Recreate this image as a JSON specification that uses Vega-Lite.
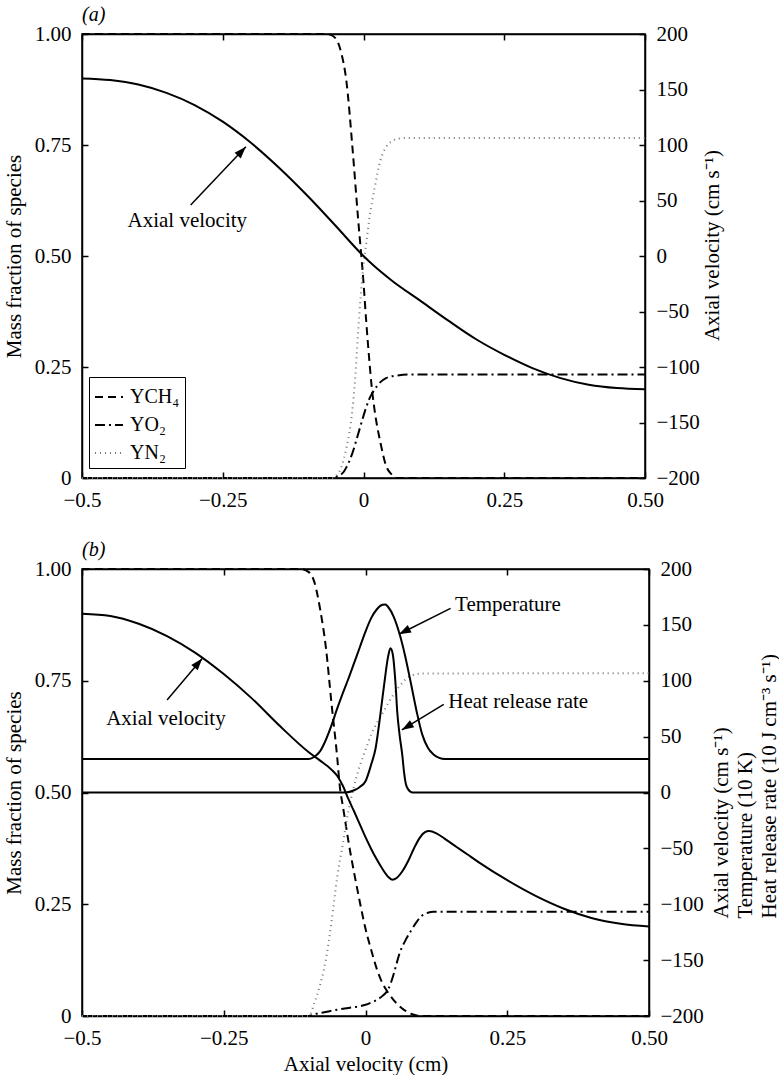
{
  "$schema": "https://vega.github.io/schema/vega-lite/v6.json",
  "padding": {"top": 4, "left": 2, "right": 0, "bottom": 0},
  "spacing": 28,
  "background": "white",
  "datasets": {
    "aSpecies": [
      {"x": -0.5, "s": "CH4", "y": 1}, {"x": -0.3, "s": "CH4", "y": 1}, {"x": -0.1, "s": "CH4", "y": 1}, {"x": -0.065, "s": "CH4", "y": 1},
      {"x": -0.055, "s": "CH4", "y": 0.996}, {"x": -0.045, "s": "CH4", "y": 0.98}, {"x": -0.04, "s": "CH4", "y": 0.96}, {"x": -0.03, "s": "CH4", "y": 0.89},
      {"x": -0.02, "s": "CH4", "y": 0.75}, {"x": -0.01, "s": "CH4", "y": 0.59}, {"x": 0, "s": "CH4", "y": 0.44}, {"x": 0.005, "s": "CH4", "y": 0.35},
      {"x": 0.01, "s": "CH4", "y": 0.27}, {"x": 0.015, "s": "CH4", "y": 0.2}, {"x": 0.02, "s": "CH4", "y": 0.15}, {"x": 0.03, "s": "CH4", "y": 0.08},
      {"x": 0.04, "s": "CH4", "y": 0.028}, {"x": 0.05, "s": "CH4", "y": 0.008}, {"x": 0.06, "s": "CH4", "y": 0}, {"x": 0.2, "s": "CH4", "y": 0}, {"x": 0.5, "s": "CH4", "y": 0},
      {"x": -0.5, "s": "O2", "y": 0}, {"x": -0.2, "s": "O2", "y": 0}, {"x": -0.055, "s": "O2", "y": 0}, {"x": -0.045, "s": "O2", "y": 0.005},
      {"x": -0.035, "s": "O2", "y": 0.014}, {"x": -0.03, "s": "O2", "y": 0.025}, {"x": -0.02, "s": "O2", "y": 0.055}, {"x": -0.01, "s": "O2", "y": 0.097},
      {"x": 0, "s": "O2", "y": 0.14}, {"x": 0.005, "s": "O2", "y": 0.16}, {"x": 0.01, "s": "O2", "y": 0.177}, {"x": 0.015, "s": "O2", "y": 0.19},
      {"x": 0.02, "s": "O2", "y": 0.2}, {"x": 0.03, "s": "O2", "y": 0.216}, {"x": 0.04, "s": "O2", "y": 0.225}, {"x": 0.05, "s": "O2", "y": 0.229},
      {"x": 0.06, "s": "O2", "y": 0.231}, {"x": 0.08, "s": "O2", "y": 0.233}, {"x": 0.5, "s": "O2", "y": 0.233},
      {"x": -0.5, "s": "N2", "y": 0}, {"x": -0.2, "s": "N2", "y": 0}, {"x": -0.055, "s": "N2", "y": 0}, {"x": -0.05, "s": "N2", "y": 0.004},
      {"x": -0.04, "s": "N2", "y": 0.022}, {"x": -0.03, "s": "N2", "y": 0.07}, {"x": -0.02, "s": "N2", "y": 0.15}, {"x": -0.015, "s": "N2", "y": 0.22},
      {"x": -0.01, "s": "N2", "y": 0.32}, {"x": -0.005, "s": "N2", "y": 0.41}, {"x": 0, "s": "N2", "y": 0.48}, {"x": 0.005, "s": "N2", "y": 0.53},
      {"x": 0.01, "s": "N2", "y": 0.58}, {"x": 0.02, "s": "N2", "y": 0.655}, {"x": 0.03, "s": "N2", "y": 0.715}, {"x": 0.04, "s": "N2", "y": 0.745},
      {"x": 0.05, "s": "N2", "y": 0.758}, {"x": 0.06, "s": "N2", "y": 0.764}, {"x": 0.08, "s": "N2", "y": 0.766}, {"x": 0.5, "s": "N2", "y": 0.766}
    ],
    "aVel": [
      {"x": -0.5, "v": 160}, {"x": -0.45, "v": 158.5}, {"x": -0.4, "v": 154.5}, {"x": -0.35, "v": 147}, {"x": -0.3, "v": 136},
      {"x": -0.25, "v": 121}, {"x": -0.2, "v": 102}, {"x": -0.15, "v": 79.5}, {"x": -0.1, "v": 54.5}, {"x": -0.05, "v": 27.5},
      {"x": 0, "v": 0}, {"x": 0.02, "v": -9.5}, {"x": 0.05, "v": -22}, {"x": 0.1, "v": -40},
      {"x": 0.15, "v": -58}, {"x": 0.2, "v": -75}, {"x": 0.25, "v": -89}, {"x": 0.3, "v": -101}, {"x": 0.35, "v": -110},
      {"x": 0.4, "v": -116}, {"x": 0.45, "v": -119}, {"x": 0.5, "v": -120}
    ],
    "aText": [{"x": -0.313, "y": 0.566, "t": "Axial velocity"}],
    "aArrow": [{"x": -0.307, "y": 0.615, "x2": -0.209, "y2": 0.746}],
    "bSpecies": [
      {"x": -0.5, "s": "CH4", "y": 1}, {"x": -0.3, "s": "CH4", "y": 1}, {"x": -0.115, "s": "CH4", "y": 1}, {"x": -0.1, "s": "CH4", "y": 0.993},
      {"x": -0.09, "s": "CH4", "y": 0.97}, {"x": -0.08, "s": "CH4", "y": 0.91}, {"x": -0.07, "s": "CH4", "y": 0.826}, {"x": -0.06, "s": "CH4", "y": 0.7},
      {"x": -0.05, "s": "CH4", "y": 0.58}, {"x": -0.045, "s": "CH4", "y": 0.51}, {"x": -0.04, "s": "CH4", "y": 0.47}, {"x": -0.035, "s": "CH4", "y": 0.43},
      {"x": -0.03, "s": "CH4", "y": 0.39}, {"x": -0.02, "s": "CH4", "y": 0.32}, {"x": -0.01, "s": "CH4", "y": 0.255}, {"x": 0, "s": "CH4", "y": 0.195},
      {"x": 0.01, "s": "CH4", "y": 0.148}, {"x": 0.02, "s": "CH4", "y": 0.105}, {"x": 0.03, "s": "CH4", "y": 0.073}, {"x": 0.04, "s": "CH4", "y": 0.052},
      {"x": 0.05, "s": "CH4", "y": 0.035}, {"x": 0.06, "s": "CH4", "y": 0.022}, {"x": 0.07, "s": "CH4", "y": 0.012}, {"x": 0.08, "s": "CH4", "y": 0.005},
      {"x": 0.09, "s": "CH4", "y": 0.001}, {"x": 0.1, "s": "CH4", "y": 0}, {"x": 0.5, "s": "CH4", "y": 0},
      {"x": -0.5, "s": "O2", "y": 0}, {"x": -0.3, "s": "O2", "y": 0}, {"x": -0.1, "s": "O2", "y": 0}, {"x": -0.09, "s": "O2", "y": 0.004},
      {"x": -0.07, "s": "O2", "y": 0.009}, {"x": -0.05, "s": "O2", "y": 0.014}, {"x": -0.03, "s": "O2", "y": 0.018}, {"x": -0.01, "s": "O2", "y": 0.022},
      {"x": 0, "s": "O2", "y": 0.025}, {"x": 0.01, "s": "O2", "y": 0.03}, {"x": 0.02, "s": "O2", "y": 0.036}, {"x": 0.03, "s": "O2", "y": 0.045},
      {"x": 0.04, "s": "O2", "y": 0.06}, {"x": 0.045, "s": "O2", "y": 0.075}, {"x": 0.05, "s": "O2", "y": 0.095}, {"x": 0.055, "s": "O2", "y": 0.118},
      {"x": 0.06, "s": "O2", "y": 0.14}, {"x": 0.07, "s": "O2", "y": 0.168}, {"x": 0.08, "s": "O2", "y": 0.19}, {"x": 0.09, "s": "O2", "y": 0.21},
      {"x": 0.1, "s": "O2", "y": 0.225}, {"x": 0.11, "s": "O2", "y": 0.231}, {"x": 0.12, "s": "O2", "y": 0.233}, {"x": 0.5, "s": "O2", "y": 0.233},
      {"x": -0.5, "s": "N2", "y": 0}, {"x": -0.3, "s": "N2", "y": 0}, {"x": -0.1, "s": "N2", "y": 0}, {"x": -0.09, "s": "N2", "y": 0.03},
      {"x": -0.08, "s": "N2", "y": 0.07}, {"x": -0.07, "s": "N2", "y": 0.125}, {"x": -0.06, "s": "N2", "y": 0.21}, {"x": -0.05, "s": "N2", "y": 0.31},
      {"x": -0.04, "s": "N2", "y": 0.385}, {"x": -0.03, "s": "N2", "y": 0.46}, {"x": -0.02, "s": "N2", "y": 0.515}, {"x": -0.01, "s": "N2", "y": 0.56},
      {"x": 0, "s": "N2", "y": 0.595}, {"x": 0.01, "s": "N2", "y": 0.63}, {"x": 0.02, "s": "N2", "y": 0.655}, {"x": 0.03, "s": "N2", "y": 0.677},
      {"x": 0.04, "s": "N2", "y": 0.7}, {"x": 0.05, "s": "N2", "y": 0.72}, {"x": 0.06, "s": "N2", "y": 0.738}, {"x": 0.07, "s": "N2", "y": 0.752},
      {"x": 0.08, "s": "N2", "y": 0.761}, {"x": 0.1, "s": "N2", "y": 0.766}, {"x": 0.5, "s": "N2", "y": 0.767}
    ],
    "bLines": [
      {"x": -0.5, "q": "vel", "v": 160}, {"x": -0.45, "q": "vel", "v": 158}, {"x": -0.4, "q": "vel", "v": 151}, {"x": -0.35, "q": "vel", "v": 140},
      {"x": -0.3, "q": "vel", "v": 125}, {"x": -0.25, "q": "vel", "v": 106}, {"x": -0.2, "q": "vel", "v": 84}, {"x": -0.15, "q": "vel", "v": 59},
      {"x": -0.1, "q": "vel", "v": 36}, {"x": -0.08, "q": "vel", "v": 28.5}, {"x": -0.06, "q": "vel", "v": 20.5}, {"x": -0.05, "q": "vel", "v": 15},
      {"x": -0.04, "q": "vel", "v": 6}, {"x": -0.03, "q": "vel", "v": -6}, {"x": -0.02, "q": "vel", "v": -17}, {"x": -0.01, "q": "vel", "v": -28.5},
      {"x": 0, "q": "vel", "v": -40}, {"x": 0.01, "q": "vel", "v": -50.5}, {"x": 0.02, "q": "vel", "v": -60}, {"x": 0.03, "q": "vel", "v": -68.5},
      {"x": 0.04, "q": "vel", "v": -75.5}, {"x": 0.047, "q": "vel", "v": -78}, {"x": 0.055, "q": "vel", "v": -76.5}, {"x": 0.065, "q": "vel", "v": -70.5},
      {"x": 0.075, "q": "vel", "v": -61.5}, {"x": 0.085, "q": "vel", "v": -50.5}, {"x": 0.095, "q": "vel", "v": -41}, {"x": 0.105, "q": "vel", "v": -35.5},
      {"x": 0.112, "q": "vel", "v": -34.5}, {"x": 0.125, "q": "vel", "v": -36.5}, {"x": 0.14, "q": "vel", "v": -41.5}, {"x": 0.16, "q": "vel", "v": -48.5},
      {"x": 0.18, "q": "vel", "v": -55.5}, {"x": 0.2, "q": "vel", "v": -62.5}, {"x": 0.25, "q": "vel", "v": -78.5}, {"x": 0.3, "q": "vel", "v": -92.5},
      {"x": 0.35, "q": "vel", "v": -104}, {"x": 0.4, "q": "vel", "v": -112.5}, {"x": 0.45, "q": "vel", "v": -117.5}, {"x": 0.5, "q": "vel", "v": -120},
      {"x": -0.5, "q": "T", "v": 30}, {"x": -0.1, "q": "T", "v": 30}, {"x": -0.09, "q": "T", "v": 32}, {"x": -0.08, "q": "T", "v": 37},
      {"x": -0.07, "q": "T", "v": 47}, {"x": -0.06, "q": "T", "v": 60}, {"x": -0.05, "q": "T", "v": 75}, {"x": -0.04, "q": "T", "v": 89},
      {"x": -0.03, "q": "T", "v": 102}, {"x": -0.02, "q": "T", "v": 116}, {"x": -0.01, "q": "T", "v": 130}, {"x": 0, "q": "T", "v": 144},
      {"x": 0.01, "q": "T", "v": 156}, {"x": 0.02, "q": "T", "v": 164}, {"x": 0.03, "q": "T", "v": 168}, {"x": 0.035, "q": "T", "v": 168.3},
      {"x": 0.04, "q": "T", "v": 166}, {"x": 0.05, "q": "T", "v": 157}, {"x": 0.06, "q": "T", "v": 142}, {"x": 0.07, "q": "T", "v": 122},
      {"x": 0.08, "q": "T", "v": 98}, {"x": 0.09, "q": "T", "v": 73}, {"x": 0.1, "q": "T", "v": 52}, {"x": 0.11, "q": "T", "v": 40},
      {"x": 0.12, "q": "T", "v": 34}, {"x": 0.13, "q": "T", "v": 31}, {"x": 0.14, "q": "T", "v": 30}, {"x": 0.5, "q": "T", "v": 30},
      {"x": -0.5, "q": "H", "v": 0}, {"x": -0.035, "q": "H", "v": 0}, {"x": -0.02, "q": "H", "v": 2}, {"x": -0.01, "q": "H", "v": 5},
      {"x": 0, "q": "H", "v": 10}, {"x": 0.01, "q": "H", "v": 25}, {"x": 0.018, "q": "H", "v": 40}, {"x": 0.025, "q": "H", "v": 65},
      {"x": 0.033, "q": "H", "v": 97}, {"x": 0.04, "q": "H", "v": 122}, {"x": 0.044, "q": "H", "v": 129}, {"x": 0.048, "q": "H", "v": 124},
      {"x": 0.053, "q": "H", "v": 97}, {"x": 0.056, "q": "H", "v": 72}, {"x": 0.06, "q": "H", "v": 52}, {"x": 0.065, "q": "H", "v": 33},
      {"x": 0.068, "q": "H", "v": 18}, {"x": 0.071, "q": "H", "v": 8}, {"x": 0.075, "q": "H", "v": 3}, {"x": 0.083, "q": "H", "v": 0},
      {"x": 0.5, "q": "H", "v": 0}
    ],
    "bTextC": [{"x": -0.352, "y": 0.651, "t": "Axial velocity"}],
    "bTextL": [{"x": 0.158, "y": 0.905, "t": "Temperature"}, {"x": 0.146, "y": 0.688, "t": "Heat release rate"}],
    "bArrow": [
      {"k": "v", "x": -0.35, "y": 0.707, "x2": -0.288, "y2": 0.8},
      {"k": "T", "x": 0.15, "y": 0.912, "x2": 0.059, "y2": 0.854},
      {"k": "H", "x": 0.138, "y": 0.697, "x2": 0.064, "y2": 0.64}
    ]
  },
  "config": {
    "font": "Liberation Serif",
    "view": {"stroke": "black", "strokeWidth": 1.5},
    "axis": {
      "grid": false, "domainColor": "black", "domainWidth": 1.5, "tickColor": "black", "tickWidth": 1.5, "tickSize": -6,
      "labelFont": "Liberation Serif", "labelFontSize": 21, "labelColor": "black", "labelPadding": 17, "labelFlush": false, "labelOverlap": false, "labelBound": false,
      "titleFont": "Liberation Serif", "titleFontSize": 21, "titleFontWeight": "normal", "titleColor": "black"
    },
    "title": {"font": "Liberation Serif", "fontSize": 20, "fontWeight": "normal", "fontStyle": "italic", "anchor": "start", "frame": "group", "color": "black", "offset": -2},
    "text": {"font": "Liberation Serif", "fontSize": 21, "color": "black"},
    "legend": {"labelFont": "Liberation Serif", "labelFontSize": 20, "labelColor": "black"}
  },
  "vconcat": [
    {
      "width": 563, "height": 444,
      "title": {"text": "(a)"},
      "layer": [
        {
          "encoding": {
            "x": {"field": "x", "type": "quantitative", "scale": {"domain": [-0.5, 0.5], "nice": false, "zero": false},
                  "axis": {"values": [-0.5, -0.25, 0, 0.25, 0.5], "labelExpr": "datum.value == 0 ? '0' : datum.value == -0.5 ? '\u22120.5' : format(datum.value, '.2f')", "title": null}},
            "y": {"field": "y", "type": "quantitative", "scale": {"domain": [0, 1], "nice": false},
                  "axis": {"values": [0, 0.25, 0.5, 0.75, 1], "labelExpr": "datum.value == 0 ? '0' : format(datum.value, '.2f')", "title": "Mass fraction of species", "titlePadding": 10}}
          },
          "layer": [
            {
              "data": {"name": "aSpecies"},
              "mark": {"type": "line", "interpolate": "monotone"},
              "encoding": {
                "color": {"field": "s", "type": "nominal", "scale": {"domain": ["CH4", "O2", "N2"], "range": ["#000000", "#000000", "#777777"]},
                          "legend": {"orient": "none", "legendX": 7, "legendY": 343, "title": null, "strokeColor": "black", "padding": 5, "symbolType": "stroke", "symbolSize": 784, "symbolStrokeWidth": 2, "rowPadding": 3, "labelOffset": 6,
                                     "labelExpr": "datum.label == 'CH4' ? 'YCH\u2084' : datum.label == 'O2' ? 'YO\u2082' : 'YN\u2082'"}},
                "strokeDash": {"field": "s", "type": "nominal", "scale": {"domain": ["CH4", "O2", "N2"], "range": [[8, 5], [10, 4, 2, 4], [1, 4]]},
                          "legend": {"orient": "none", "legendX": 7, "legendY": 343, "title": null, "strokeColor": "black", "padding": 5, "symbolType": "stroke", "symbolSize": 784, "symbolStrokeWidth": 2, "rowPadding": 3, "labelOffset": 6,
                                     "labelExpr": "datum.label == 'CH4' ? 'YCH\u2084' : datum.label == 'O2' ? 'YO\u2082' : 'YN\u2082'"}},
                "strokeWidth": {"field": "s", "type": "nominal", "scale": {"domain": ["CH4", "O2", "N2"], "range": [2, 2, 1.2]}, "legend": null}
              }
            },
            {
              "data": {"name": "aText"},
              "mark": {"type": "text", "align": "center", "baseline": "alphabetic"},
              "encoding": {"text": {"field": "t"}}
            },
            {
              "data": {"name": "aArrow"},
              "mark": {"type": "rule", "strokeWidth": 1.5, "color": "black"},
              "encoding": {"x2": {"field": "x2"}, "y2": {"field": "y2"}}
            },
            {
              "data": {"name": "aArrow"},
              "mark": {"type": "point", "shape": "M0,0L-0.7,2L0.7,2Z", "size": 144, "filled": true, "color": "black", "opacity": 1, "strokeWidth": 0, "angle": 43},
              "encoding": {
                "x": {"field": "x2", "type": "quantitative", "scale": {"domain": [-0.5, 0.5], "nice": false, "zero": false}},
                "y": {"field": "y2", "type": "quantitative", "scale": {"domain": [0, 1], "nice": false}}
              }
            }
          ]
        },
        {
          "data": {"name": "aVel"},
          "mark": {"type": "line", "interpolate": "monotone", "color": "black", "strokeWidth": 2},
          "encoding": {
            "x": {"field": "x", "type": "quantitative", "scale": {"domain": [-0.5, 0.5], "nice": false, "zero": false},
                  "axis": {"orient": "top", "values": [-0.5, -0.25, 0, 0.25, 0.5], "labels": false, "title": null}},
            "y": {"field": "v", "type": "quantitative", "scale": {"domain": [-200, 200], "nice": false},
                  "axis": {"orient": "right", "values": [-200, -150, -100, -50, 0, 50, 100, 150, 200], "title": "Axial velocity (cm s\u207b\u00b9)",
                           "titleAngle": 270, "titleBaseline": "top", "titleAlign": "center", "titleX": 56, "titleY": 211}}
          }
        }
      ],
      "resolve": {"scale": {"y": "independent"}, "axis": {"x": "independent"}}
    },
    {
      "width": 567, "height": 447,
      "title": {"text": "(b)"},
      "layer": [
        {
          "encoding": {
            "x": {"field": "x", "type": "quantitative", "scale": {"domain": [-0.5, 0.5], "nice": false, "zero": false},
                  "axis": {"values": [-0.5, -0.25, 0, 0.25, 0.5], "labelExpr": "datum.value == 0 ? '0' : datum.value == -0.5 ? '\u22120.5' : format(datum.value, '.2f')", "title": "Axial velocity (cm)", "titlePadding": 5}},
            "y": {"field": "y", "type": "quantitative", "scale": {"domain": [0, 1], "nice": false},
                  "axis": {"values": [0, 0.25, 0.5, 0.75, 1], "labelExpr": "datum.value == 0 ? '0' : format(datum.value, '.2f')", "title": "Mass fraction of species", "titlePadding": 10}}
          },
          "layer": [
            {
              "data": {"name": "bSpecies"},
              "mark": {"type": "line", "interpolate": "monotone"},
              "encoding": {
                "color": {"field": "s", "type": "nominal", "scale": {"domain": ["CH4", "O2", "N2"], "range": ["#000000", "#000000", "#777777"]}, "legend": null},
                "strokeDash": {"field": "s", "type": "nominal", "scale": {"domain": ["CH4", "O2", "N2"], "range": [[8, 5], [10, 4, 2, 4], [1, 4]]}, "legend": null},
                "strokeWidth": {"field": "s", "type": "nominal", "scale": {"domain": ["CH4", "O2", "N2"], "range": [2, 2, 1.2]}, "legend": null}
              }
            },
            {
              "data": {"name": "bTextC"},
              "mark": {"type": "text", "align": "center", "baseline": "alphabetic"},
              "encoding": {"text": {"field": "t"}}
            },
            {
              "data": {"name": "bTextL"},
              "mark": {"type": "text", "align": "left", "baseline": "alphabetic"},
              "encoding": {"text": {"field": "t"}}
            },
            {
              "data": {"name": "bArrow"},
              "mark": {"type": "rule", "strokeWidth": 1.5, "color": "black"},
              "encoding": {"x2": {"field": "x2"}, "y2": {"field": "y2"}}
            },
            {
              "data": {"name": "bArrow"},
              "transform": [{"filter": "datum.k == 'v'"}],
              "mark": {"type": "point", "shape": "M0,0L-0.7,2L0.7,2Z", "size": 144, "filled": true, "color": "black", "opacity": 1, "strokeWidth": 0, "angle": 40},
              "encoding": {
                "x": {"field": "x2", "type": "quantitative", "scale": {"domain": [-0.5, 0.5], "nice": false, "zero": false}},
                "y": {"field": "y2", "type": "quantitative", "scale": {"domain": [0, 1], "nice": false}}
              }
            },
            {
              "data": {"name": "bArrow"},
              "transform": [{"filter": "datum.k == 'T'"}],
              "mark": {"type": "point", "shape": "M0,0L-0.7,2L0.7,2Z", "size": 144, "filled": true, "color": "black", "opacity": 1, "strokeWidth": 0, "angle": 243},
              "encoding": {
                "x": {"field": "x2", "type": "quantitative", "scale": {"domain": [-0.5, 0.5], "nice": false, "zero": false}},
                "y": {"field": "y2", "type": "quantitative", "scale": {"domain": [0, 1], "nice": false}}
              }
            },
            {
              "data": {"name": "bArrow"},
              "transform": [{"filter": "datum.k == 'H'"}],
              "mark": {"type": "point", "shape": "M0,0L-0.7,2L0.7,2Z", "size": 144, "filled": true, "color": "black", "opacity": 1, "strokeWidth": 0, "angle": 239},
              "encoding": {
                "x": {"field": "x2", "type": "quantitative", "scale": {"domain": [-0.5, 0.5], "nice": false, "zero": false}},
                "y": {"field": "y2", "type": "quantitative", "scale": {"domain": [0, 1], "nice": false}}
              }
            }
          ]
        },
        {
          "data": {"name": "bLines"},
          "mark": {"type": "line", "interpolate": "monotone", "color": "black", "strokeWidth": 2},
          "encoding": {
            "detail": {"field": "q", "type": "nominal"},
            "x": {"field": "x", "type": "quantitative", "scale": {"domain": [-0.5, 0.5], "nice": false, "zero": false},
                  "axis": {"orient": "top", "values": [-0.5, -0.25, 0, 0.25, 0.5], "labels": false, "title": null}},
            "y": {"field": "v", "type": "quantitative", "scale": {"domain": [-200, 200], "nice": false},
                  "axis": {"orient": "right", "values": [-200, -150, -100, -50, 0, 50, 100, 150, 200],
                           "title": ["Axial velocity (cm s\u207b\u00b9)", "Temperature (10 K)", "Heat release rate (10 J cm\u207b\u00b3 s\u207b\u00b9)"],
                           "titleAngle": 270, "titleAlign": "left", "titleBaseline": "top", "titleX": 61, "titleY": 349, "titleLineHeight": 24}}
          }
        }
      ],
      "resolve": {"scale": {"y": "independent"}, "axis": {"x": "independent"}}
    }
  ],
  "resolve": {
    "scale": {"color": "independent", "strokeDash": "independent", "strokeWidth": "independent"},
    "legend": {"color": "independent", "strokeDash": "independent", "strokeWidth": "independent"}
  }
}
